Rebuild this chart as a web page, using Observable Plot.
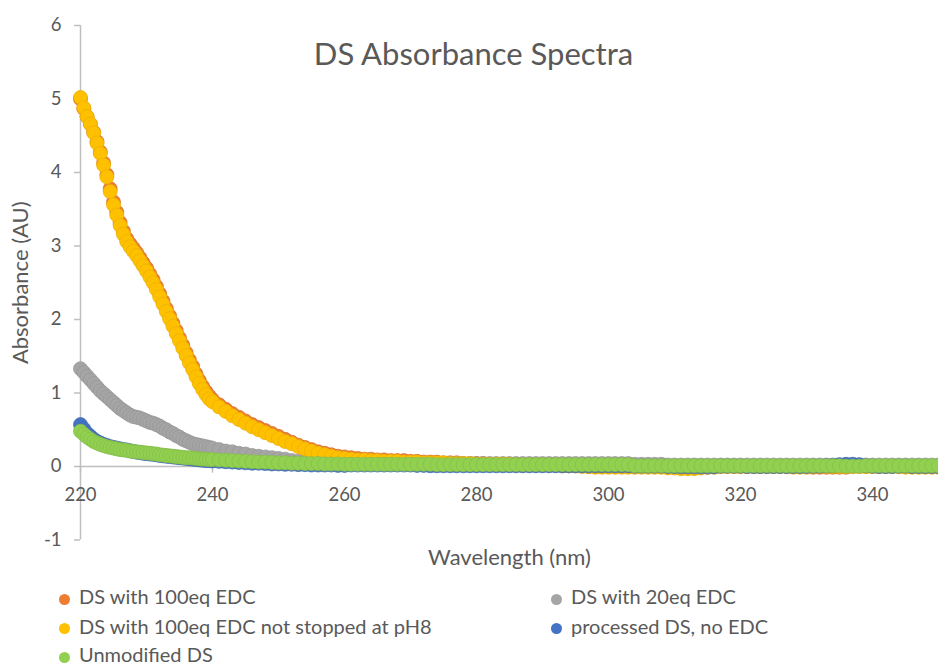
<!DOCTYPE html>
<html>
<head>
<meta charset="utf-8">
<script src="https://cdn.jsdelivr.net/npm/d3@7"></script>
<script src="https://cdn.jsdelivr.net/npm/@observablehq/plot@0.6"></script>
<style>
  html, body { margin: 0; padding: 0; background: #fff; }
  #chart { position: relative; width: 938px; height: 666px; overflow: hidden; font-family: Lato, "Open Sans", sans-serif; color: #595959; }
  #legend { position: absolute; left: 0; top: 585px; width: 938px; }
  .item { position: absolute; height: 22px; line-height: 22px; font-size: 20px; white-space: nowrap; }
  .item i { display: inline-block; width: 11px; height: 11px; border-radius: 50%; margin-right: 9px; vertical-align: -0.5px; }
</style>
</head>
<body>
<div id="chart"><div id="legend"></div></div>
<script>
// Sampling grid (nm): 0.5 nm steps up to 240, then 1 nm steps
const wavelength = [
  220, 220.5, 221, 221.5, 222, 222.5, 223, 223.5, 224, 224.5,
  225, 225.5, 226, 226.5, 227, 227.5, 228, 228.5, 229, 229.5,
  230, 230.5, 231, 231.5, 232, 232.5, 233, 233.5, 234, 234.5,
  235, 235.5, 236, 236.5, 237, 237.5, 238, 238.5, 239, 239.5, 240,
  241, 242, 243, 244, 245, 246, 247, 248, 249, 250,
  251, 252, 253, 254, 255, 256, 257, 258, 259, 260,
  261, 262, 263, 264, 265, 266, 267, 268, 269, 270,
  271, 272, 273, 274, 275, 276, 277, 278, 279, 280,
  281, 282, 283, 284, 285, 286, 287, 288, 289, 290,
  291, 292, 293, 294, 295, 296, 297, 298, 299, 300,
  301, 302, 303, 304, 305, 306, 307, 308, 309, 310,
  311, 312, 313, 314, 315, 316, 317, 318, 319, 320,
  321, 322, 323, 324, 325, 326, 327, 328, 329, 330,
  331, 332, 333, 334, 335, 336, 337, 338, 339, 340,
  341, 342, 343, 344, 345, 346, 347, 348, 349, 350
];

// Absorbance (AU) for each sample
const ds100eq = [
  5.00, 4.87, 4.76, 4.66, 4.55, 4.42, 4.28, 4.13, 3.97, 3.78,
  3.60, 3.46, 3.32, 3.20, 3.10, 3.03, 2.97, 2.91, 2.84, 2.77,
  2.70, 2.62, 2.54, 2.45, 2.35, 2.25, 2.15, 2.05, 1.95, 1.85,
  1.75, 1.65, 1.55, 1.45, 1.36, 1.26, 1.17, 1.09, 1.02, 0.96, 0.91,
  0.84, 0.78, 0.72, 0.67, 0.62, 0.57, 0.53, 0.49, 0.45, 0.41,
  0.37, 0.33, 0.29, 0.26, 0.23, 0.20, 0.18, 0.16, 0.14, 0.13,
  0.12, 0.11, 0.10, 0.10, 0.09, 0.09, 0.08, 0.08, 0.08, 0.07,
  0.07, 0.06, 0.06, 0.06, 0.05, 0.05, 0.05, 0.04, 0.04, 0.04,
  0.04, 0.03, 0.03, 0.03, 0.03, 0.03, 0.02, 0.02, 0.02, 0.02,
  0.02, 0.02, 0.01, 0.01, 0.01, 0.01, 0.00, 0.00, 0.00, 0.00,
  0.00, 0.00, 0.00, 0.00, 0.00, 0.00, 0.00, 0.00, 0.00, -0.01,
  -0.01, -0.02, -0.02, -0.01, -0.01, 0.00, 0.00, 0.00, 0.00, 0.00,
  0.00, 0.00, 0.00, 0.00, 0.00, 0.00, 0.00, 0.00, 0.00, 0.00,
  -0.01, -0.01, -0.01, -0.01, -0.01, -0.01, 0.00, 0.00, 0.00, 0.00,
  0.00, 0.00, 0.00, 0.00, 0.00, 0.00, 0.00, 0.00, 0.00, 0.00
];
const ds20eq = [
  1.33, 1.28, 1.23, 1.18, 1.13, 1.08, 1.03, 0.99, 0.95, 0.91,
  0.87, 0.83, 0.79, 0.76, 0.73, 0.70, 0.68, 0.67, 0.66, 0.64,
  0.62, 0.60, 0.59, 0.57, 0.55, 0.52, 0.50, 0.47, 0.45, 0.42,
  0.40, 0.37, 0.35, 0.33, 0.31, 0.30, 0.29, 0.28, 0.27, 0.26, 0.25,
  0.23, 0.21, 0.20, 0.18, 0.17, 0.15, 0.14, 0.13, 0.12, 0.11,
  0.10, 0.08, 0.07, 0.07, 0.06, 0.06, 0.06, 0.05, 0.05, 0.05,
  0.05, 0.05, 0.05, 0.05, 0.04, 0.04, 0.04, 0.04, 0.04, 0.04,
  0.04, 0.04, 0.04, 0.04, 0.04, 0.04, 0.04, 0.04, 0.04, 0.04,
  0.04, 0.04, 0.04, 0.04, 0.04, 0.04, 0.04, 0.04, 0.04, 0.04,
  0.04, 0.04, 0.04, 0.04, 0.04, 0.04, 0.04, 0.04, 0.04, 0.04,
  0.04, 0.04, 0.04, 0.03, 0.03, 0.03, 0.03, 0.03, 0.02, 0.02,
  0.02, 0.02, 0.02, 0.02, 0.02, 0.02, 0.02, 0.02, 0.02, 0.02,
  0.02, 0.02, 0.02, 0.02, 0.02, 0.02, 0.02, 0.02, 0.02, 0.02,
  0.02, 0.02, 0.02, 0.02, 0.02, 0.02, 0.02, 0.02, 0.02, 0.02,
  0.02, 0.02, 0.02, 0.02, 0.02, 0.02, 0.02, 0.02, 0.02, 0.02
];
const ds100eqNotStopped = [
  5.02, 4.88, 4.76, 4.66, 4.54, 4.40, 4.26, 4.10, 3.94, 3.74,
  3.56, 3.42, 3.28, 3.16, 3.06, 2.99, 2.93, 2.87, 2.80, 2.73,
  2.66, 2.58, 2.50, 2.41, 2.31, 2.21, 2.11, 2.01, 1.91, 1.81,
  1.71, 1.61, 1.51, 1.41, 1.32, 1.22, 1.13, 1.05, 0.98, 0.92, 0.88,
  0.81, 0.75, 0.69, 0.64, 0.59, 0.54, 0.50, 0.46, 0.42, 0.38,
  0.34, 0.31, 0.27, 0.24, 0.21, 0.18, 0.16, 0.14, 0.12, 0.11,
  0.10, 0.09, 0.09, 0.08, 0.08, 0.07, 0.07, 0.07, 0.06, 0.06,
  0.06, 0.05, 0.05, 0.05, 0.05, 0.04, 0.04, 0.04, 0.04, 0.03,
  0.03, 0.03, 0.03, 0.03, 0.03, 0.02, 0.02, 0.02, 0.02, 0.02,
  0.02, 0.02, 0.01, 0.01, 0.01, 0.00, 0.00, -0.01, -0.01, -0.01,
  -0.01, -0.01, -0.01, -0.01, -0.01, -0.01, -0.01, -0.01, -0.02, -0.02,
  -0.03, -0.03, -0.03, -0.02, -0.01, -0.01, 0.00, 0.00, 0.00, 0.00,
  0.00, 0.00, 0.00, 0.00, 0.00, 0.00, 0.00, -0.01, -0.01, -0.01,
  0.00, 0.00, 0.00, 0.00, 0.00, 0.00, 0.00, 0.00, 0.00, 0.00,
  0.00, 0.00, 0.00, 0.00, -0.01, -0.01, -0.01, -0.01, -0.01, -0.01
];
const processedNoEdc = [
  0.57, 0.51, 0.45, 0.41, 0.37, 0.34, 0.32, 0.30, 0.285, 0.27,
  0.26, 0.25, 0.24, 0.23, 0.225, 0.215, 0.205, 0.195, 0.19, 0.18,
  0.175, 0.17, 0.165, 0.16, 0.15, 0.145, 0.14, 0.135, 0.13, 0.125,
  0.12, 0.115, 0.11, 0.105, 0.10, 0.095, 0.09, 0.085, 0.08, 0.08, 0.075,
  0.07, 0.065, 0.06, 0.055, 0.05, 0.045, 0.045, 0.04, 0.035, 0.035,
  0.03, 0.03, 0.025, 0.025, 0.02, 0.02, 0.02, 0.02, 0.015, 0.015,
  0.02, 0.02, 0.02, 0.02, 0.02, 0.02, 0.02, 0.02, 0.02, 0.02,
  0.015, 0.015, 0.01, 0.01, 0.01, 0.01, 0.01, 0.01, 0.01, 0.01,
  0.01, 0.01, 0.01, 0.01, 0.01, 0.01, 0.01, 0.01, 0.01, 0.01,
  0.01, 0.01, 0.01, 0.01, 0.01, 0.01, 0.01, 0.01, 0.01, 0.01,
  0.01, 0.01, 0.01, 0.005, 0.005, 0.005, 0.005, 0.005, 0.00, 0.00,
  -0.005, -0.005, -0.005, -0.005, -0.005, -0.005, 0.005, 0.005, 0.005, 0.005,
  0.00, 0.00, 0.00, 0.00, 0.00, 0.00, 0.00, 0.00, 0.00, 0.00,
  0.005, 0.005, 0.01, 0.015, 0.025, 0.03, 0.03, 0.025, 0.01, 0.005,
  0.00, 0.00, 0.00, 0.005, 0.005, 0.00, 0.00, 0.00, 0.00, 0.00
];
const unmodified = [
  0.48, 0.44, 0.40, 0.37, 0.34, 0.32, 0.30, 0.285, 0.27, 0.26,
  0.25, 0.24, 0.23, 0.225, 0.22, 0.21, 0.205, 0.20, 0.195, 0.19,
  0.185, 0.18, 0.175, 0.17, 0.16, 0.155, 0.15, 0.145, 0.14, 0.135,
  0.13, 0.125, 0.12, 0.12, 0.115, 0.11, 0.105, 0.10, 0.10, 0.095, 0.095,
  0.09, 0.085, 0.08, 0.075, 0.07, 0.065, 0.06, 0.06, 0.055, 0.05,
  0.05, 0.045, 0.045, 0.04, 0.04, 0.04, 0.035, 0.035, 0.035, 0.03,
  0.03, 0.03, 0.03, 0.03, 0.03, 0.03, 0.03, 0.03, 0.03, 0.03,
  0.03, 0.03, 0.03, 0.025, 0.025, 0.025, 0.025, 0.025, 0.025, 0.025,
  0.025, 0.025, 0.025, 0.025, 0.025, 0.025, 0.025, 0.025, 0.025, 0.025,
  0.025, 0.025, 0.025, 0.025, 0.025, 0.025, 0.025, 0.025, 0.025, 0.025,
  0.025, 0.025, 0.025, 0.01, 0.01, 0.01, 0.01, 0.01, 0.01, 0.01,
  0.01, 0.01, 0.01, 0.01, 0.01, 0.01, 0.01, 0.01, 0.01, 0.01,
  0.01, 0.01, 0.01, 0.01, 0.01, 0.01, 0.01, 0.01, 0.01, 0.01,
  0.01, 0.01, 0.01, 0.01, 0.01, 0.005, 0.005, 0.005, 0.01, 0.01,
  0.01, 0.01, 0.01, 0.01, 0.01, 0.01, 0.01, 0.01, 0.01, 0.01
];

// Series, in drawing order (later series sit on top)
const seriesNames = [
  "DS with 100eq EDC",
  "DS with 20eq EDC",
  "DS with 100eq EDC not stopped at pH8",
  "processed DS, no EDC",
  "Unmodified DS"
];
const seriesValues = [ds100eq, ds20eq, ds100eqNotStopped, processedNoEdc, unmodified];
const seriesColors = ["#ED7D31", "#A5A5A5", "#FFC000", "#4472C4", "#92D050"];

// Axis ticks
const xTicks = [220, 240, 260, 280, 300, 320, 340];
const yTicks = [-1, 0, 1, 2, 3, 4, 5, 6];

const chartTitle = "DS Absorbance Spectra";
const xTitle = "Wavelength (nm)";
const yTitle = "Absorbance (AU)";

const TEXT = "#595959";
const AXIS = "#BFBFBF";
const FONT = "Lato, 'Open Sans', sans-serif";

const seriesMarks = seriesNames.map((name, i) => {
  const rows = wavelength.map((wl, j) => ({wl, abs: seriesValues[i][j], series: name}));
  return Plot.dot(rows, {
    x: "wl", y: "abs", r: 7,
    fill: seriesColors[i],
    stroke: d3.color(seriesColors[i]).darker(0.25).formatHex(),
    strokeWidth: 0.75
  });
});

const svg = Plot.plot({
  width: 938,
  height: 580,
  marginTop: 25,
  marginBottom: 40.5,
  marginLeft: 80,
  marginRight: 0,
  x: {domain: [220, 350], axis: null},
  y: {domain: [-1, 6], axis: null},
  style: {fontFamily: FONT, fontSize: "18.5px", color: TEXT, background: "transparent", overflow: "visible"},
  marks: [
    // vertical axis with outward ticks
    Plot.ruleX([220], {stroke: AXIS, strokeWidth: 1.5}),
    Plot.axisY(yTicks, {
      anchor: "left", tickSize: 6, tickPadding: 13, stroke: AXIS, strokeWidth: 1.5,
      fill: TEXT, label: null, tickFormat: d => String(d), fontSize: 18.5
    }),
    // horizontal axis crossing at zero
    Plot.ruleY([0], {stroke: AXIS, strokeWidth: 1.5}),
    Plot.ruleX(xTicks, {x: d => d, y1: 0, y2: -0.09, stroke: AXIS, strokeWidth: 1.5}),
    Plot.text(xTicks, {x: d => d, y: 0, dy: 29, text: d => String(d), fill: TEXT, fontSize: 18.5}),
    ...seriesMarks,
    // titles
    Plot.text([chartTitle], {frameAnchor: "top", lineAnchor: "middle", dx: -36, dy: 30, fill: TEXT, fontSize: 31}),
    Plot.text([xTitle], {frameAnchor: "bottom", lineAnchor: "middle", dy: 17.5, fill: TEXT, fontSize: 22}),
    Plot.text([yTitle], {frameAnchor: "left", textAnchor: "middle", lineAnchor: "middle", dx: -60, rotate: -90, fill: TEXT, fontSize: 22})
  ]
});
svg.style.position = "absolute";
svg.style.left = "0";
svg.style.top = "0";
document.getElementById("chart").prepend(svg);

// Legend: two columns, row-major in series order
const legend = d3.select("#legend");
const colX = [59, 551];
const rowY = [0, 29.5, 58];
seriesNames.forEach((name, i) => {
  const item = legend.append("div").attr("class", "item")
    .style("left", colX[i % 2] + "px")
    .style("top", rowY[Math.floor(i / 2)] + "px");
  item.append("i").style("background", seriesColors[i]);
  item.append("span").text(name);
});
</script>
</body>
</html>
